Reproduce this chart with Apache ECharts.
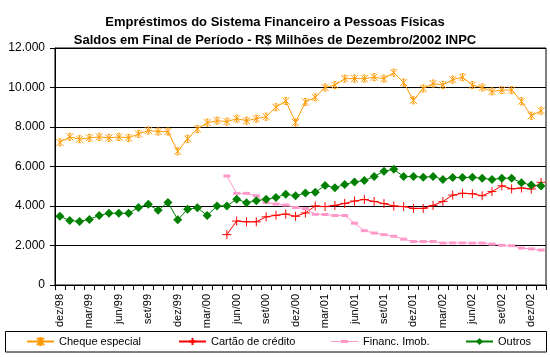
<!DOCTYPE html>
<html><head><meta charset="utf-8">
<script src="https://cdn.jsdelivr.net/npm/echarts@6/dist/echarts.min.js"></script>
<style>html,body{margin:0;padding:0;background:#fff}#c{width:550px;height:357px}</style>
</head><body><div id="c"></div>
<script>
const categories = [
 'dez/98','jan/99','fev/99','mar/99','abr/99','mai/99','jun/99','jul/99','ago/99','set/99','out/99','nov/99',
 'dez/99','jan/00','fev/00','mar/00','abr/00','mai/00','jun/00','jul/00','ago/00','set/00','out/00','nov/00',
 'dez/00','jan/01','fev/01','mar/01','abr/01','mai/01','jun/01','jul/01','ago/01','set/01','out/01','nov/01',
 'dez/01','jan/02','fev/02','mar/02','abr/02','mai/02','jun/02','jul/02','ago/02','set/02','out/02','nov/02',
 'dez/02','jan/03'];
const chequeEspecial = [7220,7500,7380,7450,7500,7450,7500,7450,7650,7820,7770,7770,
 6770,7400,7900,8220,8320,8270,8420,8320,8420,8520,9000,9320,
 8230,9270,9500,10000,10120,10450,10450,10450,10520,10450,10750,10250,
 9350,9950,10200,10130,10400,10520,10120,10000,9800,9870,9870,9300,
 8570,8820];
const cartaoCredito = [null,null,null,null,null,null,null,null,null,null,null,null,
 null,null,null,null,null,2550,3240,3200,3200,3450,3530,3590,
 3480,3650,4000,3970,4030,4130,4250,4330,4230,4120,4000,3970,
 3880,3880,4030,4230,4550,4645,4620,4520,4730,5020,4870,4910,
 4860,5200];
const financImob = [null,null,null,null,null,null,null,null,null,null,null,null,
 null,null,null,null,null,5520,4640,4640,4520,4170,4100,4050,
 3920,3870,3580,3570,3520,3520,3130,2750,2630,2550,2470,2320,
 2200,2200,2200,2120,2130,2130,2120,2120,2070,2010,1990,1870,
 1830,1770];
const outros = [3475,3270,3220,3320,3525,3630,3630,3630,3930,4085,3780,4180,
 3310,3830,3910,3520,4000,4000,4345,4170,4260,4345,4430,4600,
 4517,4655,4700,5035,4930,5085,5220,5290,5500,5760,5860,5490,
 5500,5450,5500,5345,5440,5440,5450,5400,5340,5410,5410,5180,
 5060,5010];
const yTickLabels = ['0','2.000','4.000','6.000','8.000','10.000','12.000'];
const seriesNames = ['Cheque especial','Cartão de crédito','Financ. Imob.','Outros'];

const FONT = "'Liberation Sans', Arial, sans-serif";
const starPath = 'path://M0,0L10,10M10,0L0,10M5,0L5,10M3,0L7,0M3,10L7,10';
const plusPath = 'path://M5,0L5,10M0,5L10,5';
const pinkLegendIcon = 'path://M0,1L27,1L27,2L0,2Z M10,0L17,0L17,3L10,3Z';

const chart = echarts.init(document.getElementById('c'), null, {renderer:'canvas'});
function lineSeries(name, data, color, symbol, size, stroke) {
  return {
    name, type:'line', data, symbol, symbolSize:size, showSymbol:true, showAllSymbol:true,
    connectNulls:false,
    lineStyle:{color, width:1},
    itemStyle: stroke ? {color:'rgba(0,0,0,0)', borderColor:color, borderWidth:1} : {color, borderWidth:0},
    emphasis:{disabled:true}, animation:false
  };
}
const legendLefts = [26, 178, 331, 465];
const legends = seriesNames.map((n, i) => {
  const isPink = i === 2;
  return {
    data:[isPink ? {name:n, icon:pinkLegendIcon, itemStyle:{color:'#FF99CC', borderWidth:0}} : n],
    top:336, left:legendLefts[i], itemGap:0, itemWidth:27, itemHeight: isPink ? 3 : 9, padding:0,
    textStyle:{fontSize:11, color:'#000', fontFamily:FONT}
  };
});
chart.setOption({
  animation:false,
  textStyle:{fontFamily:FONT},
  title:{
    text:'Empréstimos do Sistema Financeiro a Pessoas Físicas\nSaldos em Final de Período - R$ Milhões de Dezembro/2002 INPC',
    left:'center', top:8,
    textStyle:{fontFamily:FONT, fontSize:13, fontWeight:'bold', color:'#000', lineHeight:18}
  },
  grid:{left:55, right:4, top:48, bottom:72, show:true, borderColor:'#000', borderWidth:1, backgroundColor:'#fff'},
  xAxis:{
    type:'category', data:categories, boundaryGap:true,
    axisLine:{lineStyle:{color:'#000', width:1}},
    axisTick:{show:true, interval:0, alignWithLabel:false, length:5, lineStyle:{color:'#000'}},
    axisLabel:{interval:2, rotate:90, fontSize:11, color:'#000', fontFamily:FONT, margin:9},
    splitLine:{show:false}
  },
  yAxis:{
    type:'value', min:0, max:12000, interval:2000,
    axisLine:{show:true, lineStyle:{color:'#000', width:1}},
    axisTick:{show:true, length:5, lineStyle:{color:'#000'}},
    axisLabel:{fontSize:12, color:'#000', fontFamily:FONT, margin:10,
      formatter:(v)=>yTickLabels[Math.round(v/2000)]},
    splitLine:{show:true, lineStyle:{color:'#000', width:1}}
  },
  legend:legends,
  graphic:[{type:'rect', shape:{x:5.5, y:331.5, width:541, height:20.5},
    style:{fill:'none', stroke:'#000', lineWidth:1}, silent:true, z:-1}],
  series:[
    lineSeries(seriesNames[0], chequeEspecial, '#FF9900', starPath, 7, true),
    lineSeries(seriesNames[1], cartaoCredito, '#FF0000', plusPath, 9, true),
    lineSeries(seriesNames[2], financImob, '#FF99CC', 'rect', [7,3], false),
    lineSeries(seriesNames[3], outros, '#008000', 'diamond', 9, false)
  ]
});
</script></body></html>
